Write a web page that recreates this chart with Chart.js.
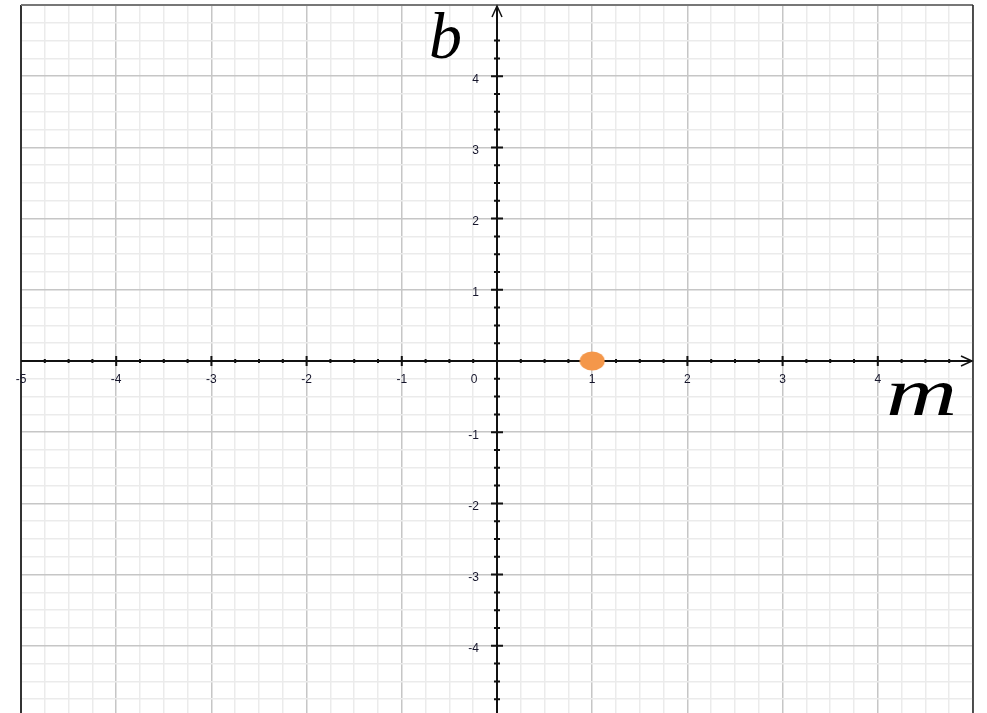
<!DOCTYPE html>
<html>
<head>
<meta charset="utf-8">
<script src="https://cdn.jsdelivr.net/npm/chart.js@4/dist/chart.umd.min.js"></script>
<style>
  html, body { margin: 0; padding: 0; background: #fff; overflow: hidden; }
  #wrap { width: 987px; height: 713px; overflow: hidden; }
</style>
</head>
<body>
<div id="wrap"><canvas id="myChart" width="987" height="717"></canvas></div>
<script>
// data
const pointsM = [1]
const pointsB = [0]
const xTickLabels = [-5, -4, -3, -2, -1, 0, 1, 2, 3, 4]
const yTickLabels = [4, 3, 2, 1, -1, -2, -3, -4]
const xTitle = 'm'
const yTitle = 'b'

const MAJOR = '#c6c6c6'
const MINOR = '#ebebeb'

// orange ellipse used as the point style
const makeDot = () => {
  const c = document.createElement('canvas')
  c.width = 26
  c.height = 20
  const g = c.getContext('2d')
  g.fillStyle = '#f4974a'
  g.beginPath()
  g.ellipse(13, 10, 12.5, 9.5, 0, 0, Math.PI * 2)
  g.fill()
  return c
}

const gridColor = (ctx) => (Math.abs(ctx.tick.value % 1) < 1e-9 ? MAJOR : MINOR)

const axesPlugin = {
  id: 'axes',
  beforeDatasetsDraw(chart) {
    const {ctx, chartArea: a, scales: {x, y}} = chart
    const x0 = x.getPixelForValue(0)
    const y0 = y.getPixelForValue(0)
    ctx.save()
    // frame
    ctx.strokeStyle = '#333'
    ctx.lineWidth = 2
    ctx.beginPath()
    ctx.moveTo(a.left, a.bottom)
    ctx.lineTo(a.left, a.top)
    ctx.stroke()
    ctx.strokeStyle = '#777'
    ctx.beginPath()
    ctx.moveTo(a.left, a.top)
    ctx.lineTo(a.right, a.top)
    ctx.stroke()
    ctx.strokeStyle = '#222'
    ctx.lineWidth = 1.5
    ctx.beginPath()
    ctx.moveTo(a.right, a.top)
    ctx.lineTo(a.right, a.bottom)
    ctx.stroke()

    // axis lines
    ctx.strokeStyle = '#111'
    ctx.lineWidth = 2
    ctx.beginPath()
    ctx.moveTo(a.left, y0)
    ctx.lineTo(a.right - 2, y0)
    ctx.moveTo(x0, a.bottom)
    ctx.lineTo(x0, a.top + 2)
    ctx.stroke()

    // arrow heads
    ctx.lineWidth = 1.5
    ctx.beginPath()
    ctx.moveTo(a.right - 12, y0 - 5)
    ctx.lineTo(a.right - 1, y0)
    ctx.lineTo(a.right - 12, y0 + 5)
    ctx.moveTo(x0 - 5, a.top + 12)
    ctx.lineTo(x0, a.top + 1)
    ctx.lineTo(x0 + 5, a.top + 12)
    ctx.stroke()

    // tick marks
    ctx.lineWidth = 2
    ctx.beginPath()
    x.ticks.forEach(t => {
      if (t.value <= x.min || t.value >= x.max || t.value === 0) return
      const px = x.getPixelForValue(t.value)
      const h = Math.abs(t.value % 1) < 1e-9 ? 5 : 2
      ctx.moveTo(px, y0 - h)
      ctx.lineTo(px, y0 + h)
    })
    y.ticks.forEach(t => {
      if (t.value >= y.max - 0.3 || t.value === 0) return
      const py = y.getPixelForValue(t.value)
      const w = Math.abs(t.value % 1) < 1e-9 ? 6 : 3
      ctx.moveTo(x0 - w, py)
      ctx.lineTo(x0 + w, py)
    })
    ctx.stroke()
    ctx.restore()
  },
  afterDraw(chart) {
    const {ctx, scales: {x, y}} = chart
    const x0 = x.getPixelForValue(0)
    const y0 = y.getPixelForValue(0)
    ctx.save()
    ctx.fillStyle = '#16162c'
    ctx.font = '12px "Liberation Sans", Arial, sans-serif'
    ctx.textBaseline = 'middle'
    ctx.textAlign = 'center'
    xTickLabels.forEach(v => {
      const px = v === 0 ? x0 - 23 : x.getPixelForValue(v)
      ctx.fillText(String(v), px, y0 + 19)
    })
    ctx.textAlign = 'right'
    yTickLabels.forEach(v => {
      ctx.fillText(String(v), x0 - 18, y.getPixelForValue(v) + 3)
    })

    // axis letters
    ctx.fillStyle = '#000'
    ctx.textBaseline = 'alphabetic'
    ctx.textAlign = 'left'
    ctx.font = 'italic 66px "Liberation Serif", "DejaVu Serif", serif'
    ctx.fillText(yTitle, 429, 58)
    ctx.save()
    ctx.translate(886, 415)
    ctx.scale(1.45, 1)
    ctx.font = 'italic 68px "Liberation Serif", "DejaVu Serif", serif'
    ctx.fillText(xTitle, 0, 0)
    ctx.restore()
    ctx.restore()
  }
}

new Chart(document.getElementById('myChart'), {
  type: 'scatter',
  data: {
    datasets: [{
      data: pointsM.map((m, i) => ({x: m, y: pointsB[i]})),
      pointStyle: makeDot(),
      pointRadius: 12
    }]
  },
  options: {
    responsive: false,
    animation: false,
    layout: {autoPadding: false, padding: {left: 21, top: 5, right: 14, bottom: 0}},
    plugins: {legend: {display: false}, tooltip: {enabled: false}},
    scales: {
      x: {
        type: 'linear',
        min: -5,
        max: 5,
        border: {display: false},
        ticks: {display: false, stepSize: 0.25},
        grid: {color: gridColor, lineWidth: 1.5, drawTicks: false, tickLength: 0}
      },
      y: {
        type: 'linear',
        min: -5,
        max: 5,
        border: {display: false},
        ticks: {display: false, stepSize: 0.25},
        grid: {color: gridColor, lineWidth: 1.5, drawTicks: false, tickLength: 0}
      }
    }
  },
  plugins: [axesPlugin]
})
</script>
</body>
</html>
